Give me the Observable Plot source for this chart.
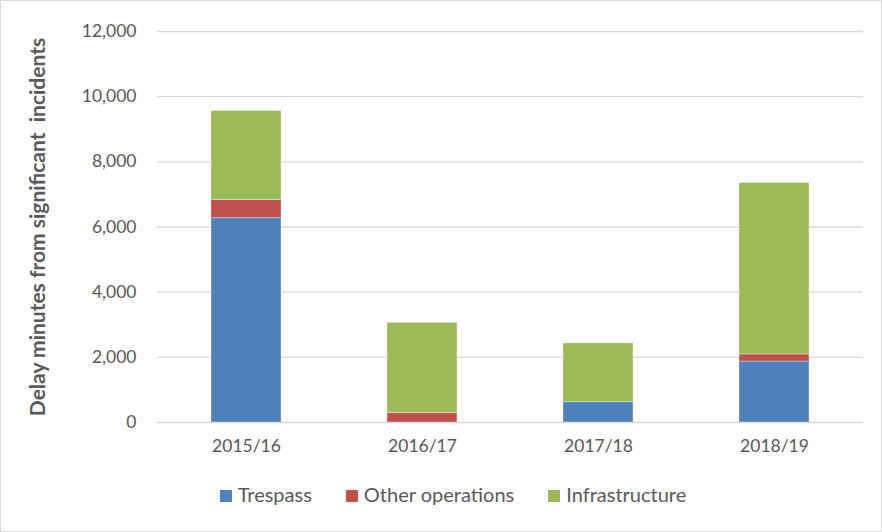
<!DOCTYPE html>
<html><head><meta charset="utf-8">
<script src="https://cdn.jsdelivr.net/npm/d3@7"></script>
<script src="https://cdn.jsdelivr.net/npm/@observablehq/plot@0.6"></script>
<style>
html,body{margin:0;padding:0;background:#fff;}
#wrap{position:relative;width:880px;height:530px;border:1px solid #d9d9d9;font-family:Lato,"Open Sans",sans-serif;}
#legend{position:absolute;left:0;right:0;top:481px;padding-left:24px;display:flex;justify-content:center;gap:34px;font-size:20px;color:#595959;}
#legend span.sw{display:inline-block;width:12px;height:12px;margin-right:6px;vertical-align:0px;}
</style></head>
<body><div id="wrap"><div id="chart"></div><div id="legend"></div></div>
<script>
const years = ["2015/16","2016/17","2017/18","2018/19"];
const seriesNames = ["Trespass","Other operations","Infrastructure"];
const trespass = [6270, 0, 625, 1870];
const otherOps = [560, 290, 0, 220];
const infrastructure = [2730, 2770, 1805, 5260];
const colors = ["#4F81BD","#C0504D","#9BBB59"];
const yTicks = [0,2000,4000,6000,8000,10000,12000];

const seriesVals = [trespass, otherOps, infrastructure];
const data = [];
seriesNames.forEach((s,i)=>years.forEach((y,j)=>data.push({year:y, series:s, value:seriesVals[i][j]})));

const chart = Plot.plot({
  width: 880, height: 470,
  marginLeft: 156, marginRight: 18, marginTop: 30, marginBottom: 49,
  style:{fontFamily:"Lato, 'Open Sans', sans-serif", fontSize:"17px", color:"#595959", background:"transparent"},
  x:{domain:years, paddingInner:0.6, paddingOuter:0.3, label:null},
  y:{domain:[0,12000], label:null},
  color:{domain:seriesNames, range:colors},
  marks:[
    Plot.gridY(yTicks,{stroke:"#d9d9d9", strokeOpacity:1, strokeWidth:1.3}),
    Plot.barY(data, Plot.stackY({x:"year", y:"value", fill:"series", order:seriesNames, stroke:"white", strokeOpacity:0.35, strokeWidth:1})),
    Plot.axisY({ticks:yTicks, tickFormat:d3.format(","), tickSize:0, tickPadding:21, fontSize:17.5, label:null}),
    Plot.axisX({tickSize:0, tickPadding:17, fontSize:17.5, label:null}),
    Plot.text(["Delay minutes from significant  incidents"],{frameAnchor:"left", textAnchor:"middle", dx:-119, dy:0, rotate:-90, fontWeight:"bold", fontSize:21, fill:"#595959"})
  ]
});
document.getElementById("chart").appendChild(chart);

const lg = document.getElementById("legend");
seriesNames.forEach((s,i)=>{
  const d = document.createElement("div");
  d.innerHTML = `<span class="sw" style="background:${colors[i]}"></span>${s}`;
  lg.appendChild(d);
});
</script></body></html>
